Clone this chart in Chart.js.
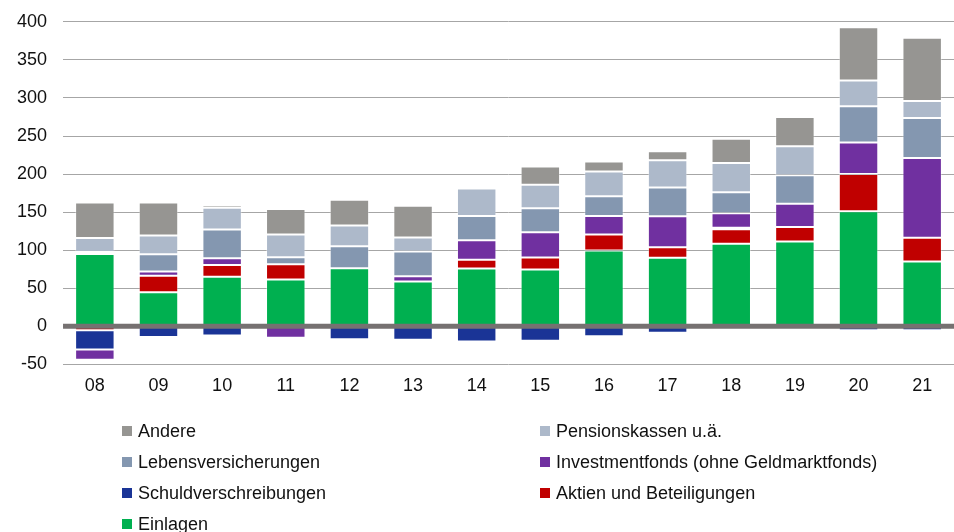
<!DOCTYPE html>
<html>
<head>
<meta charset="utf-8">
<script src="https://cdn.jsdelivr.net/npm/chart.js@4"></script>
<style>
  html, body { margin: 0; padding: 0; background: #fff; overflow: hidden; }
  #wrap { position: relative; width: 954px; height: 532px; overflow: hidden; }
  #grafico { position: absolute; left: 0; top: -5px; }
  #legend {
    position: absolute; left: 122px; top: 420px;
    display: grid; grid-template-columns: 418px 400px; row-gap: 9px;
    font-family: "Liberation Sans", Arial, sans-serif; font-size: 18px; color: #111;
  }
  .item { display: flex; align-items: center; height: 22px; white-space: nowrap; }
  .box { width: 10px; height: 10px; margin-right: 6px; }
</style>
</head>
<body>
<div id="wrap">
  <canvas id="grafico" width="954" height="532"></canvas>
  <div id="legend"></div>
</div>
<script>
const jahre = ["08", "09", "10", "11", "12", "13", "14", "15", "16", "17", "18", "19", "20", "21"];

const einlagen = [95, 44.7, 65, 61.5, 76.3, 58.8, 76, 74.5, 99.5, 90, 108.5, 111.5, 151, 85];
const aktien = [-5, 21.6, 15.7, 20, 0, 0, 11.5, 16, 21, 14, 19, 19, 49, 31.5];
const schuldverschreibungen = [-25.5, -14, -12, 0, -17, -17.5, -20, -19, -13, -8.5, 2, 0, -5, -5];
const investmentfonds = [-13.5, 5.6, 8.7, -15, -2.5, 7, 25.5, 33, 24.5, 40.5, 19, 30.5, 41.5, 104.5];
const lebensversicherungen = [2.5, 22.8, 37.8, 9.2, 28.9, 32.5, 32, 31.5, 26, 38, 27.5, 37.5, 47.5, 52.5];
const pensionskassen = [18.5, 24.6, 28.5, 30, 27.2, 18.5, 36, 31, 32.5, 35.5, 38.5, 38, 34, 22.5];
const andere = [46.5, 43.4, 3.3, 33.3, 33.8, 41.5, 0, 24, 13, 12, 32, 38.5, 70, 83];

Chart.defaults.font.family = '"Liberation Sans", Arial, sans-serif';
Chart.defaults.font.size = 18;
Chart.defaults.color = "#111";

// Nulllinie über den Balken zeichnen
const nullLinie = {
  id: "nullLinie",
  afterDatasetsDraw(chart) {
    const { ctx, chartArea } = chart;
    const y = chart.scales.y.getPixelForValue(0);
    ctx.save();
    ctx.strokeStyle = "#767171";
    ctx.lineWidth = 5;
    ctx.beginPath();
    ctx.moveTo(chartArea.left, y);
    ctx.lineTo(chartArea.right, y);
    ctx.stroke();
    ctx.restore();
  },
};

const serie = (label, data, farbe) => ({
  label,
  data,
  backgroundColor: farbe,
  borderColor: "rgba(255,255,255,0.35)",
  borderWidth: 1,
  borderSkipped: false,
});

const chart = new Chart(document.getElementById("grafico"), {
  type: "bar",
  data: {
    labels: jahre,
    datasets: [
      serie("Einlagen", einlagen, "#00b050"),
      serie("Aktien und Beteiligungen", aktien, "#c00000"),
      serie("Schuldverschreibungen", schuldverschreibungen, "#1a3496"),
      serie("Investmentfonds (ohne Geldmarktfonds)", investmentfonds, "#7030a0"),
      serie("Lebensversicherungen", lebensversicherungen, "#8497b0"),
      serie("Pensionskassen u.ä.", pensionskassen, "#adb9ca"),
      serie("Andere", andere, "#969592"),
    ],
  },
  options: {
    responsive: false,
    animation: false,
    layout: { padding: { left: 1, right: 0, top: 7, bottom: 127 } },
    datasets: { bar: { categoryPercentage: 1, barPercentage: 0.62 } },
    plugins: {
      legend: { display: false },
      tooltip: { enabled: false },
    },
    scales: {
      x: {
        stacked: true,
        grid: { display: false },
        border: { display: false },
        ticks: { padding: 3 },
      },
      y: {
        stacked: true,
        min: -50,
        max: 400,
        ticks: { stepSize: 50, padding: 16 },
        grid: { color: "#a6a6a6", lineWidth: 1, drawTicks: false },
        border: { display: false },
      },
    },
  },
  plugins: [nullLinie],
});

// Legende in zwei Spalten, Reihenfolge umgekehrt
const legende = document.getElementById("legend");
chart.data.datasets.slice().reverse().forEach((ds) => {
  const item = document.createElement("div");
  item.className = "item";
  item.innerHTML = `<span class="box" style="background:${ds.backgroundColor}"></span>${ds.label}`;
  legende.appendChild(item);
});
</script>
</body>
</html>
